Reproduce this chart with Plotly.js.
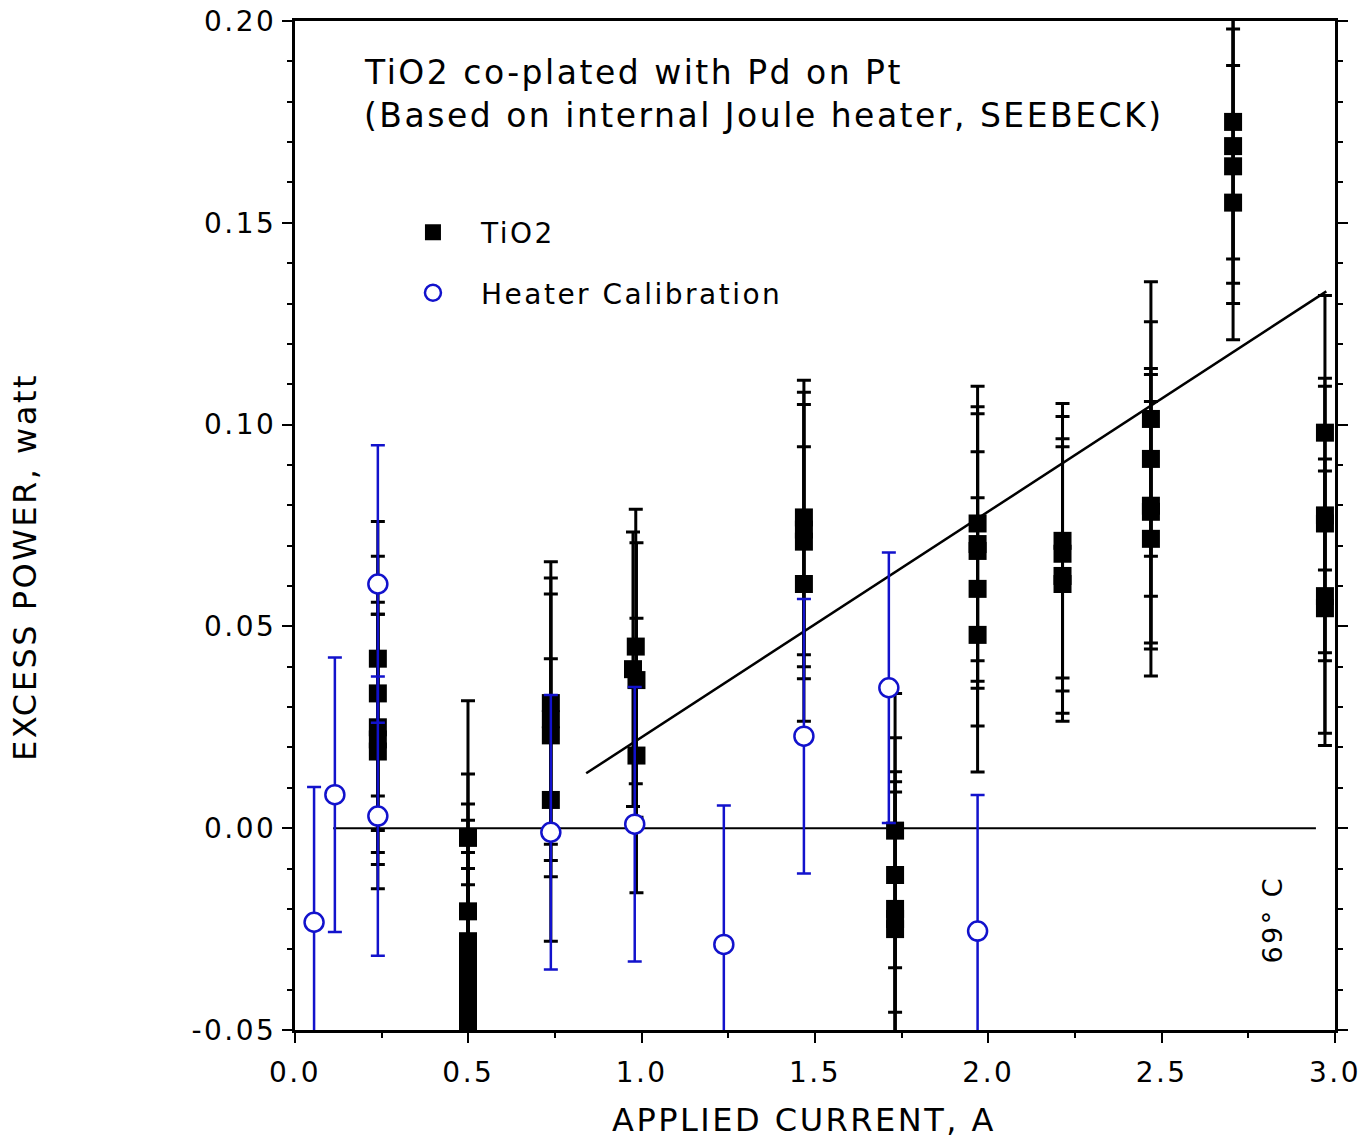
<!DOCTYPE html>
<html>
<head>
<meta charset="utf-8">
<script src="https://cdn.plot.ly/plotly-3.0.1.min.js"></script>
<style>
  html, body { margin: 0; padding: 0; background: #fff; }
  #chart { width: 1366px; height: 1140px; }
  text { letter-spacing: 2.5px; }
</style>
</head>
<body>
<div id="chart"></div>
<script>
// ---- TiO2 (applied current A, excess power W, error W) ----
const tio2X = [
  0.239, 0.239, 0.239, 0.239, 0.239,
  0.499, 0.499, 0.499, 0.499, 0.499, 0.499, 0.499, 0.499,
  0.738, 0.738, 0.738, 0.738,
  0.983, 0.975, 0.985, 0.985,
  1.468, 1.468, 1.468, 1.468,
  1.731, 1.731, 1.731, 1.731, 1.731,
  1.969, 1.969, 1.969, 1.969, 1.969,
  2.214, 2.214, 2.214, 2.214,
  2.469, 2.469, 2.469, 2.469, 2.469,
  2.706, 2.706, 2.706, 2.706,
  2.971, 2.971, 2.971, 2.971, 2.971
];
const tio2Y = [
  0.042, 0.0334, 0.025, 0.022, 0.019,
  -0.0024, -0.0206, -0.028, -0.032, -0.036, -0.040, -0.044, -0.048,
  0.031, 0.027, 0.023, 0.007,
  0.045, 0.0394, 0.0367, 0.018,
  0.077, 0.074, 0.071, 0.0605,
  -0.0006, -0.0116, -0.020, -0.0225, -0.025,
  0.0755, 0.0704, 0.0687, 0.0593, 0.0479,
  0.0712, 0.068, 0.0625, 0.0605,
  0.1014, 0.0915, 0.0799, 0.0784, 0.0717,
  0.175, 0.169, 0.164, 0.155,
  0.098, 0.0775, 0.0755, 0.0575, 0.0545
];
const tio2Err = [
  0.034, 0.034, 0.031, 0.031, 0.034,
  0.034, 0.034, 0.034, 0.034, 0.034, 0.034, 0.034, 0.034,
  0.035, 0.035, 0.035, 0.035,
  0.034, 0.034, 0.034, 0.034,
  0.034, 0.034, 0.034, 0.034,
  0.034, 0.034, 0.034, 0.034, 0.034,
  0.034, 0.034, 0.034, 0.034, 0.034,
  0.034, 0.034, 0.034, 0.034,
  0.034, 0.034, 0.034, 0.034, 0.034,
  0.034, 0.034, 0.034, 0.034,
  0.034, 0.034, 0.034, 0.034, 0.034
];

// ---- Heater calibration ----
const heatX = [0.055, 0.115, 0.239, 0.239, 0.738, 0.98, 1.237, 1.468, 1.713, 1.969];
const heatY = [-0.0233, 0.0083, 0.0605, 0.003, -0.001, 0.001, -0.0288, 0.0228, 0.0348, -0.0255];
const heatErr = [0.0335, 0.034, 0.0344, 0.0346, 0.034, 0.034, 0.0344, 0.034, 0.0335, 0.0337];

// ---- Fit line and zero reference line ----
const fitX = [0.84, 2.975];
const fitY = [0.0136, 0.133];
const zeroX = [0.11, 2.945];
const zeroY = [0, 0];

// ---- Tick labels ----
const xTickVals = [0, 0.5, 1.0, 1.5, 2.0, 2.5, 3.0];
const xTickText = ['0.0', '0.5', '1.0', '1.5', '2.0', '2.5', '3.0'];
const yTickVals = [-0.05, 0, 0.05, 0.10, 0.15, 0.20];
const yTickText = ['-0.05', '0.00', '0.05', '0.10', '0.15', '0.20'];

const FONT = 'DejaVu Sans, Verdana, sans-serif';
const BLUE = '#1212cc';

const traces = [
  {
    x: zeroX, y: zeroY, mode: 'lines', showlegend: false, hoverinfo: 'skip',
    line: { color: '#000', width: 2 }
  },
  {
    x: fitX, y: fitY, mode: 'lines', showlegend: false, hoverinfo: 'skip',
    line: { color: '#000', width: 2.5 }
  },
  {
    x: tio2X, y: tio2Y, name: 'TiO2', mode: 'markers', legendgroup: 'a',
    marker: { symbol: 'square', size: 18, color: '#000' },
    error_y: { type: 'data', array: tio2Err, visible: true, color: '#000', thickness: 3, width: 7 }
  },
  {
    x: heatX, y: heatY, name: 'Heater Calibration', mode: 'markers', legendgroup: 'b',
    marker: { symbol: 'circle', size: 19, color: '#fff', line: { color: BLUE, width: 2.5 } },
    error_y: { type: 'data', array: heatErr, visible: true, color: BLUE, thickness: 2.5, width: 7 }
  }
];

const layout = {
  width: 1366, height: 1140,
  margin: { l: 295, r: 31, t: 21, b: 110 },
  paper_bgcolor: '#fff', plot_bgcolor: '#fff',
  font: { family: FONT, color: '#000', size: 28 },
  showlegend: true,
  legend: {
    x: 0.0865, xanchor: 'left', y: 0.815, yanchor: 'top',
    font: { family: FONT, size: 28, color: '#000' },
    itemwidth: 86, tracegroupgap: 21, bgcolor: 'rgba(0,0,0,0)',
    traceorder: 'grouped'
  },
  xaxis: {
    range: [0, 3], showgrid: false, zeroline: false,
    showline: true, linecolor: '#000', linewidth: 3, mirror: true,
    tickmode: 'array', tickvals: xTickVals, ticktext: xTickText,
    ticks: 'outside', ticklen: 10, tickwidth: 2, tickcolor: '#000',
    ticklabelstandoff: 5,
    minor: { dtick: 0.25, tick0: 0, ticks: 'outside', ticklen: 5, tickwidth: 2, tickcolor: '#000', showgrid: false },
    tickfont: { family: FONT, size: 28, color: '#000' }
  },
  yaxis: {
    range: [-0.05, 0.20], showgrid: false, zeroline: false,
    showline: true, linecolor: '#000', linewidth: 3, mirror: 'ticks',
    tickmode: 'array', tickvals: yTickVals, ticktext: yTickText,
    ticks: 'outside', ticklen: 10, tickwidth: 2, tickcolor: '#000',
    minor: { dtick: 0.01, tick0: 0, ticks: 'outside', ticklen: 5, tickwidth: 2, tickcolor: '#000', showgrid: false },
    tickfont: { family: FONT, size: 28, color: '#000' }
  },
  annotations: [
    {
      xref: 'paper', yref: 'paper', x: 0.0644, y: 0.9485, xanchor: 'left', yanchor: 'middle',
      text: 'TiO2 co-plated with Pd on Pt', showarrow: false,
      font: { family: FONT, size: 33, color: '#000' }
    },
    {
      xref: 'paper', yref: 'paper', x: 0.0644, y: 0.9068, xanchor: 'left', yanchor: 'middle',
      text: '(Based on internal Joule heater, SEEBECK)', showarrow: false,
      font: { family: FONT, size: 33, color: '#000' }
    },
    {
      xref: 'paper', yref: 'paper', x: 0.939, y: 0.109, xanchor: 'center', yanchor: 'middle',
      text: '69° C', showarrow: false, textangle: -90,
      font: { family: FONT, size: 27, color: '#000' }
    },
    {
      xref: 'paper', yref: 'paper', x: -0.2596, y: 0.4589, xanchor: 'center', yanchor: 'middle',
      text: 'EXCESS POWER, watt', showarrow: false, textangle: -90,
      font: { family: FONT, size: 32, color: '#000' }
    },
    {
      xref: 'paper', yref: 'paper', x: 0.489, y: -0.0892, xanchor: 'center', yanchor: 'middle',
      text: 'APPLIED CURRENT, A', showarrow: false,
      font: { family: FONT, size: 32, color: '#000' }
    }
  ]
};

Plotly.newPlot('chart', traces, layout, { displayModeBar: false, staticPlot: true });
</script>
</body>
</html>
